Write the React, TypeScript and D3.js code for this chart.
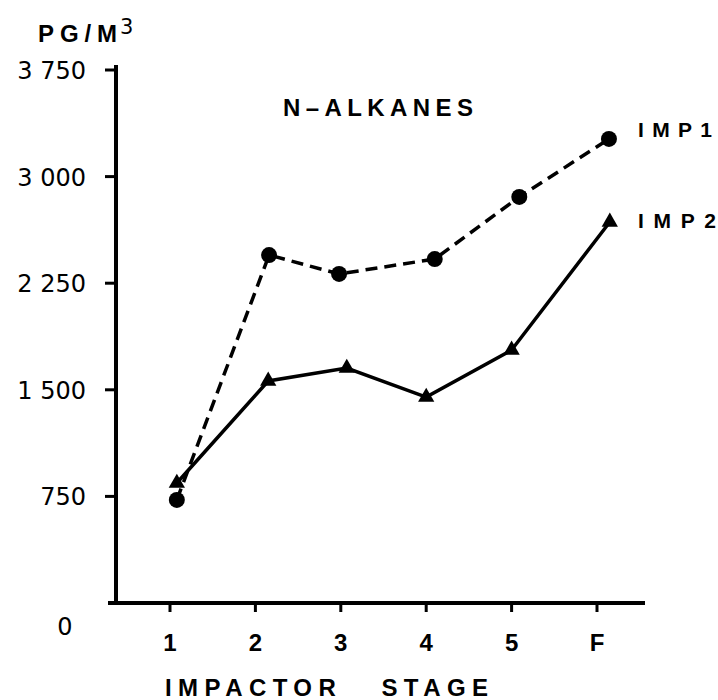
import * as d3 from 'd3';

const stages = ['1', '2', '3', '4', '5', 'F'];
const stagePos = [1, 2, 3, 4, 5, 6];
const yTicks = [750, 1500, 2250, 3000, 3750];
const yTickLabels = ['750', '1 500', '2 250', '3 000', '3 750'];

// IMP1 (dashed, circles) and IMP2 (solid, triangles)
const imp1X = [1.08, 2.16, 2.98, 4.1, 5.09, 6.14];
const imp1Y = [725, 2448, 2315, 2420, 2857, 3265];
const imp2X = [1.08, 2.15, 3.07, 4.0, 5.0, 6.15];
const imp2Y = [844, 1562, 1653, 1449, 1780, 2681];

const W = 718;
const H = 700;
const font = "'Liberation Sans', Arial, sans-serif";
const numFont = "'DejaVu Sans', sans-serif";

const App = () => {
  const x = d3.scaleLinear().domain([1, 6]).range([170, 597]);
  const y = d3.scaleLinear().domain([0, 3750]).range([603, 70]);

  const line = d3
    .line<[number, number]>()
    .x((d) => x(d[0]))
    .y((d) => y(d[1]));

  const imp1 = imp1X.map((v, i) => [v, imp1Y[i]] as [number, number]);
  const imp2 = imp2X.map((v, i) => [v, imp2Y[i]] as [number, number]);
  const tri = d3.symbol().type(d3.symbolTriangle).size(115)();

  return (
    <svg
      width={W}
      height={H}
      style={{ position: 'absolute', left: 0, top: 0, background: '#fff' }}
      fontFamily={font}
    >
      {/* axis unit */}
      <text x={38} y={42} fontSize={24} fontWeight='bold' textLength={79} lengthAdjust='spacing'>
        PG/M
      </text>
      <text x={120} y={34} fontSize={21} fontFamily={numFont}>
        3
      </text>

      {/* axes */}
      <line x1={116} x2={116} y1={65} y2={y(0)} stroke='#000' strokeWidth={4} />
      <line x1={108} x2={645} y1={y(0)} y2={y(0)} stroke='#000' strokeWidth={4} />

      {yTicks.map((t, i) => (
        <g key={t}>
          <line x1={105} x2={116} y1={y(t)} y2={y(t)} stroke='#000' strokeWidth={3} />
          <text
            x={86}
            y={y(t) + 9}
            fontSize={24}
            fontFamily={numFont}
            textAnchor='end'
          >
            {yTickLabels[i]}
          </text>
        </g>
      ))}
      <text x={65} y={635} fontSize={24} fontFamily={numFont} textAnchor='middle'>
        0
      </text>

      {stagePos.map((p, i) => (
        <g key={p}>
          <line x1={x(p)} x2={x(p)} y1={y(0)} y2={y(0) + 9} stroke='#000' strokeWidth={3} />
          <text x={x(p)} y={651} fontSize={24} fontWeight='bold' textAnchor='middle'>
            {stages[i]}
          </text>
        </g>
      ))}

      <text
        x={165}
        y={696}
        fontSize={24}
        fontWeight='bold'
        textLength={323}
        lengthAdjust='spacing'
      >
        IMPACTOR{'\u00a0\u00a0\u00a0'}STAGE
      </text>

      <text
        x={283}
        y={116}
        fontSize={24}
        fontWeight='bold'
        textLength={190}
        lengthAdjust='spacing'
      >
        N–ALKANES
      </text>

      {/* series */}
      <path
        d={line(imp1) || ''}
        fill='none'
        stroke='#000'
        strokeWidth={3.5}
        strokeDasharray='12 7'
      />
      <path d={line(imp2) || ''} fill='none' stroke='#000' strokeWidth={3.5} />

      {imp1.map((d, i) => (
        <circle key={i} cx={x(d[0])} cy={y(d[1])} r={8} fill='#000' />
      ))}
      {imp2.map((d, i) => (
        <path key={i} d={tri || ''} transform={`translate(${x(d[0])},${y(d[1])})`} fill='#000' />
      ))}

      <text x={638} y={137} fontSize={21} fontWeight='bold' textLength={74} lengthAdjust='spacing'>
        IMP1
      </text>
      <text x={638} y={228} fontSize={21} fontWeight='bold' textLength={78} lengthAdjust='spacing'>
        IMP2
      </text>
    </svg>
  );
};

export default App;
